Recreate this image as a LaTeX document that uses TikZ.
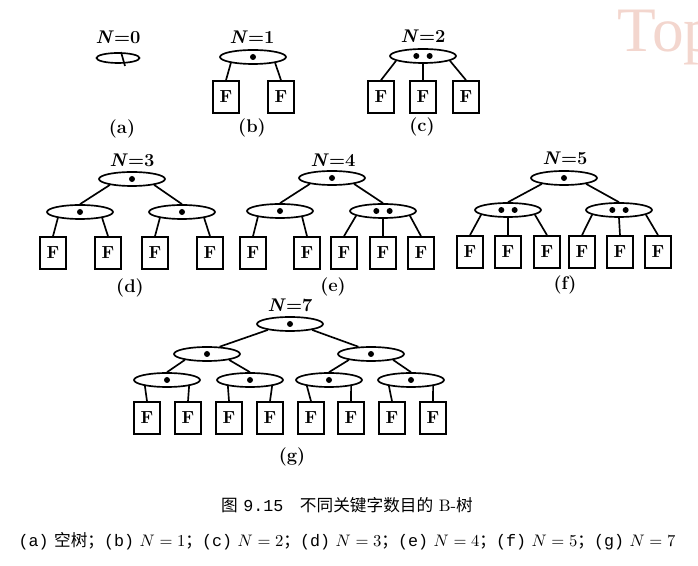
\documentclass[tikz,border=0pt]{standalone}
\usepackage{fontspec}
\usetikzlibrary{shapes.geometric}
\newfontfamily\cjk{Noto Sans CJK SC}
\newfontfamily\capmono{Liberation Mono}
\newfontfamily\wmfont{Liberation Serif}
\definecolor{wmpink}{RGB}{243,214,206}
\newcommand{\onekey}[1]{\fill (#1.center) circle (1.8pt);}
\newcommand{\twokeys}[1]{\fill ([xshift=-4pt]#1.center) circle (1.8pt); \fill ([xshift=4pt]#1.center) circle (1.8pt);}

\begin{document}
\begin{tikzpicture}[x=0.6pt,y=-0.6pt,line width=1pt,
  keynode/.style={ellipse,draw,minimum width=39.6pt,minimum height=8.4pt,inner sep=0pt},
  leaf/.style={rectangle,draw,minimum width=15.6pt,minimum height=19.2pt,inner sep=0pt,font=\bfseries\fontsize{10.5}{12}\selectfont},
  nlabel/.style={font=\bfseries\fontsize{11}{13}\selectfont},
  sublabel/.style={font=\bfseries\fontsize{11}{13}\selectfont}]
\useasboundingbox (0,0) rectangle (698,566);

% Watermark
\node (wm) [anchor=base west, inner sep=0pt, text=wmpink, font={\wmfont\fontsize{38}{40}\selectfont}] at (617,52) {Top};

% (a) N=0
\node (nla) [nlabel] at (118,37) {\textit{N}=0};
\node (a0) [keynode, minimum width=25.8pt, minimum height=6pt] at (118,58) {};
\draw ([xshift=1.8pt,yshift=3.6pt]a0.center) -- ([xshift=4.2pt,yshift=-4.8pt]a0.center);
\node (suba) [sublabel] at (122,129) {(a)};

% (b) N=1
\node (nlb) [nlabel] at (252,37) {\textit{N}=1};
\node (b0) [keynode] at (253,57) {};
\onekey{b0}
\node (bf1) [leaf] at (226,97) {F};
\node (bf2) [leaf] at (281,97) {F};
\node (subb) [sublabel] at (252,128) {(b)};
\draw (b0.195) -- (bf1.north);
\draw (b0.-15) -- (bf2.north);

% (c) N=2
\node (nlc) [nlabel] at (423,36) {\textit{N}=2};
\node (c0) [keynode] at (423,56) {};
\twokeys{c0}
\foreach \x [count=\i] in {381,423,466} {\node (cf\i) [leaf] at (\x,97) {F};}
\node (subc) [sublabel] at (422,127) {(c)};
\draw (c0.190) -- (cf1.north);
\draw (c0.south) -- (cf2.north);
\draw (c0.-10) -- (cf3.north);

% (d) N=3
\node (nld) [nlabel] at (132,160) {\textit{N}=3};
\node (d0) [keynode] at (132,179) {};
\node (dk1) [keynode] at (80,212) {};
\node (dk2) [keynode] at (182,212) {};
\onekey{d0} \onekey{dk1} \onekey{dk2}
\foreach \x [count=\i] in {53,108,155,210} {\node (df\i) [leaf] at (\x,253) {F};}
\node (subd) [sublabel] at (130,288) {(d)};
\draw (d0.195) -- (dk1.north);
\draw (d0.-15) -- (dk2.north);
\draw (dk1.195) -- (df1.north);
\draw (dk1.-15) -- (df2.north);
\draw (dk2.195) -- (df3.north);
\draw (dk2.-15) -- (df4.north);

% (e) N=4
\node (nle) [nlabel] at (333,160) {\textit{N}=4};
\node (e0) [keynode] at (332,178) {};
\node (ek1) [keynode] at (280,211) {};
\node (ek2) [keynode] at (383,211) {};
\onekey{e0} \onekey{ek1} \twokeys{ek2}
\foreach \x [count=\i] in {253,307,344,383,421} {\node (ef\i) [leaf] at (\x,253) {F};}
\node (sube) [sublabel] at (333,287) {(e)};
\draw (e0.195) -- (ek1.north);
\draw (e0.-15) -- (ek2.north);
\draw (ek1.195) -- (ef1.north);
\draw (ek1.-15) -- (ef2.north);
\draw (ek2.190) -- (ef3.north);
\draw (ek2.south) -- (ef4.north);
\draw (ek2.-10) -- (ef5.north);

% (f) N=5
\node (nlf) [nlabel] at (565,158) {\textit{N}=5};
\node (f0) [keynode] at (564,178) {};
\node (fk1) [keynode] at (508,210) {};
\node (fk2) [keynode] at (619,210) {};
\onekey{f0} \twokeys{fk1} \twokeys{fk2}
\foreach \x [count=\i] in {470,508,547,582,620,658} {\node (ff\i) [leaf] at (\x,252) {F};}
\node (subf) [sublabel] at (565,285) {(f)};
\draw (f0.195) -- (fk1.north);
\draw (f0.-15) -- (fk2.north);
\draw (fk1.190) -- (ff1.north);
\draw (fk1.south) -- (ff2.north);
\draw (fk1.-10) -- (ff3.north);
\draw (fk2.190) -- (ff4.north);
\draw (fk2.south) -- (ff5.north);
\draw (fk2.-10) -- (ff6.north);

% (g) N=7
\node (nlg) [nlabel] at (290,305) {\textit{N}=7};
\node (g0) [keynode] at (290,324) {};
\node (gk1) [keynode] at (207,354) {};
\node (gk2) [keynode] at (371,354) {};
\foreach \x [count=\i from 3] in {167,250,329,411} {\node (gk\i) [keynode] at (\x,380) {};}
\foreach \n in {g0,gk1,gk2,gk3,gk4,gk5,gk6} {\onekey{\n}}
\foreach \x [count=\i] in {147,188,229,270,311,351,392,433} {\node (gf\i) [leaf] at (\x,418) {F};}
\node (subg) [sublabel] at (292,457) {(g)};
\draw (g0.195) -- (gk1.30);
\draw (g0.-15) -- (gk2.150);
\draw (gk1.195) -- (gk3.north);
\draw (gk1.-15) -- (gk4.north);
\draw (gk2.195) -- (gk5.north);
\draw (gk2.-15) -- (gk6.north);
\foreach \k/\i/\j in {3/1/2,4/3/4,5/5/6,6/7/8} {
  \draw (gk\k.195) -- (gf\i.north);
  \draw (gk\k.-15) -- (gf\j.north);
}

% Caption
\node (cap1) at (347,505) {\fontsize{10}{12}\selectfont {\cjk 图} {\capmono 9.15}\quad {\cjk 不同关键字数目的} B-{\cjk 树}};
\node (cap2) at (347,541) {\fontsize{10}{12}\selectfont {\capmono (a)} {\cjk 空树；}{\capmono (b)} $N=1${\cjk ；}{\capmono (c)} $N=2${\cjk ；}{\capmono (d)} $N=3${\cjk ；}{\capmono (e)} $N=4${\cjk ；}{\capmono (f)} $N=5${\cjk ；}{\capmono (g)} $N=7$};

\end{tikzpicture}
\end{document}
